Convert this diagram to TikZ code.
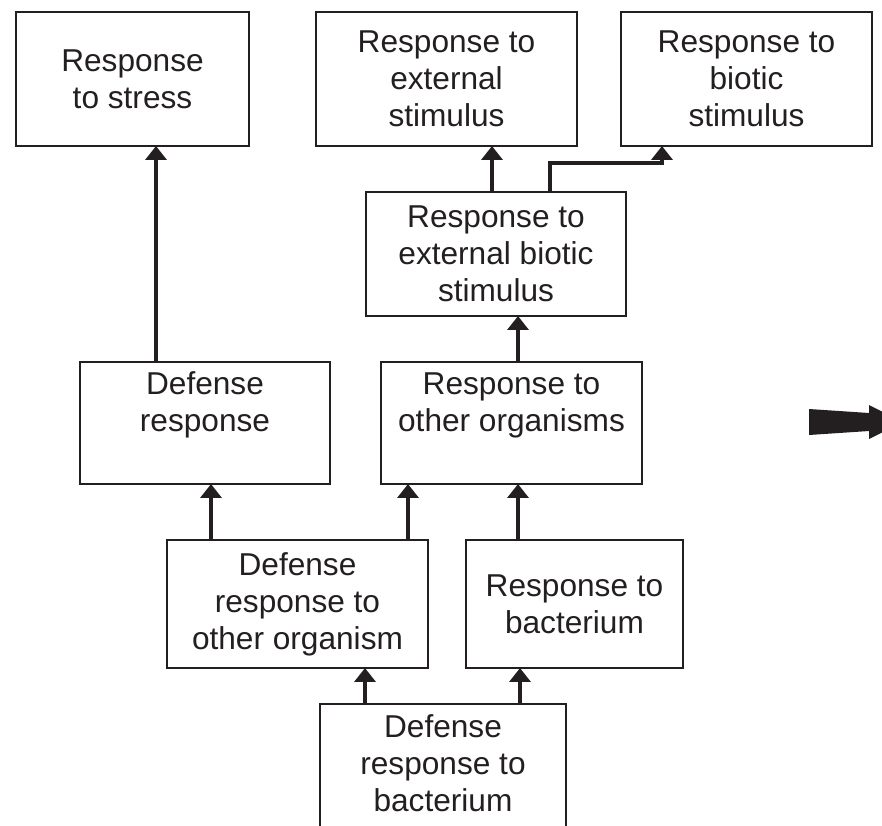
\documentclass[tikz,border=0pt]{standalone}
\usepackage{fontspec}
\setmainfont{Liberation Sans}
\usetikzlibrary{arrows.meta}
\definecolor{ink}{HTML}{231F20}
\tikzset{
  term/.style={draw=ink, line width=1.4pt, inner sep=0pt, outer sep=0pt,
    align=center, text=ink, font=\fontsize{18}{21}\selectfont},
  up/.style={draw=ink, line width=2.5pt,
    -{Triangle[length=0.28cm, width=0.42cm]}}
}
\begin{document}
\begin{tikzpicture}[x=0.02cm, y=-0.02cm]
  \useasboundingbox (0,0) rectangle (882,825);

  % top row
  \node[term, minimum width=4.66cm, minimum height=2.68cm] (stress) at (132.5,79) {Response\\to stress};
  \node[term, minimum width=5.22cm, minimum height=2.68cm] (ext) at (446.5,79) {Response to\\external\\stimulus};
  \node[term, minimum width=5.02cm, minimum height=2.68cm] (bio) at (746.5,79) {Response to\\biotic\\stimulus};

  \node[term, minimum width=5.2cm, minimum height=2.48cm] (extbio) at (496,254) {Response to\\external biotic\\stimulus};

  % middle row
  \node[term, minimum width=5.0cm, minimum height=2.44cm] (defense) at (205,423) {Defense\\response\rule[-0.85cm]{0pt}{0pt}};
  \node[term, minimum width=5.22cm, minimum height=2.44cm] (other) at (511.5,423) {Response to\\other organisms\rule[-0.85cm]{0pt}{0pt}};

  \node[term, minimum width=5.22cm, minimum height=2.56cm] (defother) at (297.5,604) {Defense\\response to\\other organism};
  \node[term, minimum width=4.34cm, minimum height=2.56cm] (bact) at (574.5,604) {Response to\\bacterium};

  % bottom, cut by the page edge
  \node[term, minimum width=4.92cm, minimum height=2.64cm] (defbact) at (443,770) {Defense\\response to\\bacterium\rule[-0.28cm]{0pt}{0pt}};

  % is-a links
  \draw[up] (defense.north -| 156,0) -- (stress.south -| 156,0);
  \draw[up] (extbio.north -| 492,0) -- (ext.south -| 492,0);
  \coordinate (bend) at (550,163);
  \draw[up] (extbio.north -| bend) -- (bend) -| (bio.south -| 662,0);
  \draw[up] (other.north -| 518,0) -- (extbio.south -| 518,0);
  \draw[up] (defother.north -| 211,0) -- (defense.south -| 211,0);
  \draw[up] (defother.north -| 408,0) -- (other.south -| 408,0);
  \draw[up] (bact.north -| 518,0) -- (other.south -| 518,0);
  \draw[up] (defbact.north -| 365,0) -- (defother.south -| 365,0);
  \draw[up] (defbact.north -| 520,0) -- (bact.south -| 520,0);

  % big arrow at the right edge
  \fill[ink] (809,409) -- (869,413) -- (869,405) -- (903,422) -- (869,439)
    -- (869,431) -- (809,435) -- cycle;
\end{tikzpicture}
\end{document}
